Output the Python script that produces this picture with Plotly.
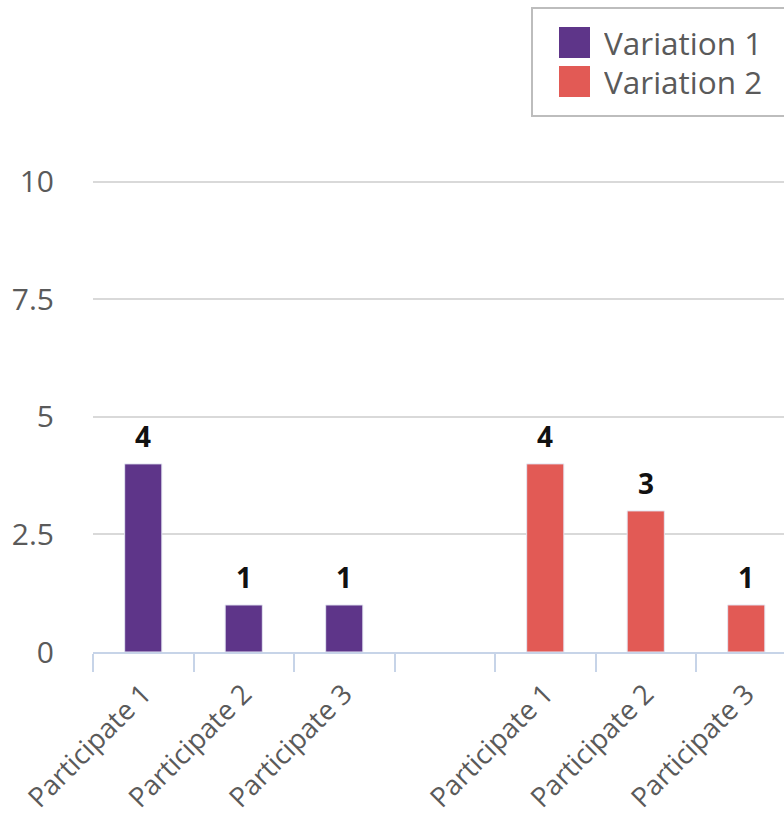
import plotly.graph_objects as go

# Category labels along the x axis (an empty slot separates the two groups)
participants = ["Participate 1", "Participate 2", "Participate 3"]
series_names = ["Variation 1", "Variation 2"]
variation_1 = [4, 1, 1]
variation_2 = [4, 3, 1]
y_ticks = [0, 2.5, 5, 7.5, 10]
y_tick_text = ["0", "2.5", "5", "7.5", "10"]
y_max = 10.1

colors = ["#5e3589", "#e25a55"]
font = "Open Sans"
grey_text = "#5a5a5a"

W, H = 784, 819
M_L, M_R, M_T, M_B = 93, 0, 177, 167

# group positions: first group at slots 0..2, a gap slot, second group at 4..6
x_v1 = list(range(len(participants)))
x_v2 = [len(participants) + 1 + i for i in range(len(participants))]
slot_px = 100.5
plot_w = W - M_L - M_R
x_range = [-0.5, -0.5 + plot_w / slot_px]

fig = go.Figure()
for name, xs, vals, col in zip(series_names, [x_v1, x_v2], [variation_1, variation_2], colors):
    fig.add_trace(go.Bar(
        x=xs, y=vals, name=name, width=0.37,
        marker=dict(color=col, line=dict(color="#e4e6f2", width=1)),
        showlegend=False,
    ))
    # value labels above each bar
    for xv, v in zip(xs, vals):
        fig.add_annotation(
            x=xv, y=v, text=str(v), showarrow=False, yanchor="bottom", yshift=7,
            font=dict(family=font, size=28, color="#111111", weight="bold"),
        )

# legend box with large swatches (paper coordinates from pixels)
plot_h = H - M_T - M_B


def px_x(px):
    return (px - M_L) / plot_w


def px_y(py):
    return (H - M_B - py) / plot_h


fig.add_shape(type="rect", xref="paper", yref="paper",
              x0=px_x(532), x1=px_x(800), y0=px_y(8), y1=px_y(116),
              line=dict(color="#bdbdbd", width=2), fillcolor="white", layer="above")
for i, (name, col) in enumerate(zip(series_names, colors)):
    top = 27 + i * 39
    fig.add_shape(type="rect", xref="paper", yref="paper",
                  x0=px_x(559), x1=px_x(590), y0=px_y(top), y1=px_y(top + 31),
                  line=dict(width=0), fillcolor=col, layer="above")
    fig.add_annotation(xref="paper", yref="paper", x=px_x(602), y=px_y(top + 15),
                       xanchor="left", yanchor="middle", text=name, showarrow=False,
                       height=36, valign="middle",
                       font=dict(family=font, size=31.5, color=grey_text))

fig.update_layout(
    template="none",
    width=W, height=H,
    margin=dict(l=M_L, r=M_R, t=M_T, b=M_B, pad=0),
    paper_bgcolor="white", plot_bgcolor="white",
    showlegend=False,
)
fig.update_xaxes(
    range=x_range, automargin=False,
    tickmode="array",
    tickvals=x_v1 + x_v2,
    ticktext=participants + participants,
    tickangle=-45,
    ticks="outside", ticklen=13, tickcolor="rgba(0,0,0,0)",
    tickfont=dict(family=font, size=27.5, color=grey_text),
    showgrid=False, zeroline=False,
    showline=True, linecolor="#c7d4e8", linewidth=2,
    minor=dict(tick0=0.5, dtick=1, ticks="outside", ticklen=18, tickwidth=2,
               tickcolor="#c7d4e8", showgrid=False),
)
fig.update_yaxes(
    range=[0, y_max], automargin=False,
    tickmode="array", tickvals=y_ticks, ticktext=y_tick_text,
    tickfont=dict(family=font, size=30, color=grey_text),
    showgrid=True, gridcolor="#d9d9d9", gridwidth=2,
    zeroline=False, showline=False, ticks="",
    ticklabelstandoff=38,
)

fig.write_html("out.html")
